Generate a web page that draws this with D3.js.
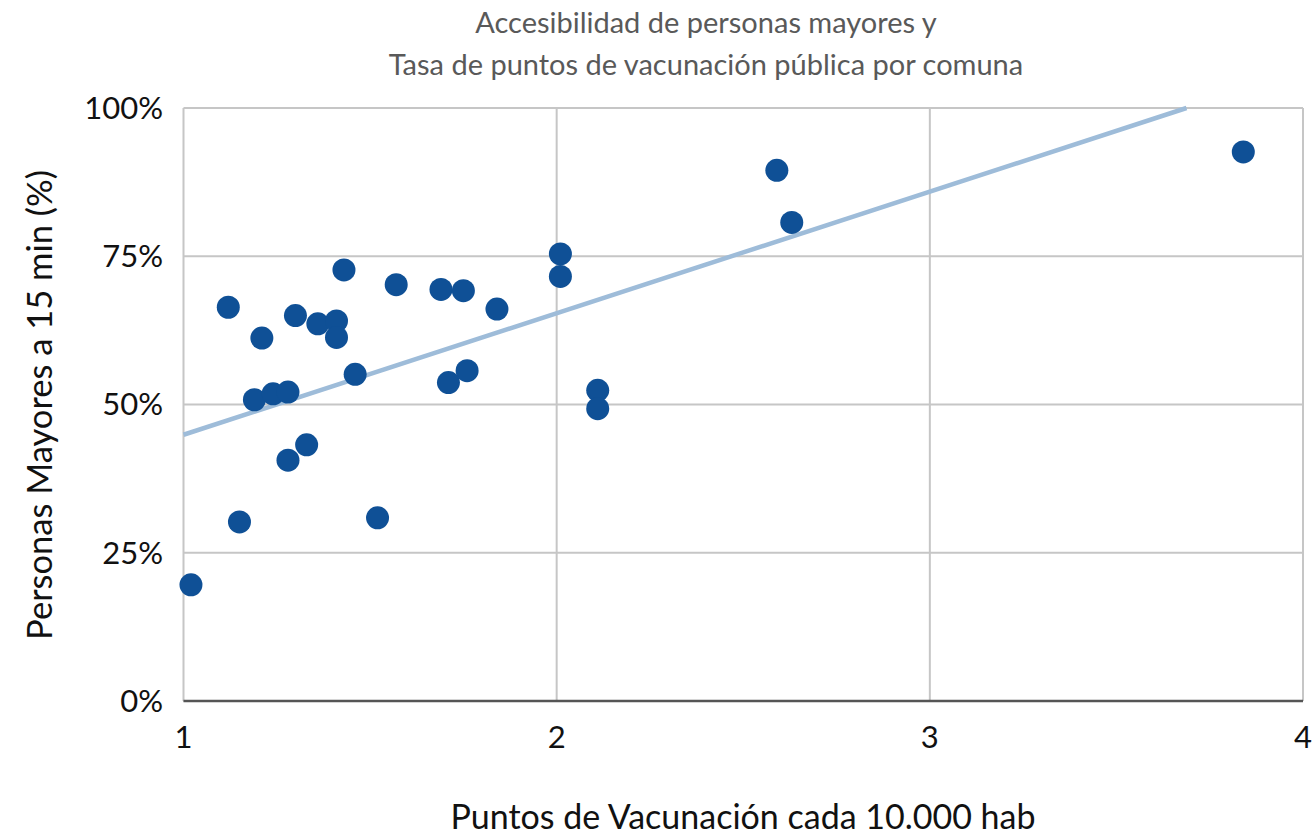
<!DOCTYPE html>
<html>
<head>
<meta charset="utf-8">
<script src="https://cdn.jsdelivr.net/npm/d3@7"></script>
<style>
  body { margin: 0; background: #fff; }
  text { font-family: Lato, "Noto Sans", sans-serif; }
</style>
</head>
<body>
<div id="chart"></div>
<script>
// puntos de vacunacion cada 10.000 hab
var puntos = [3.84, 2.59, 2.63, 2.01, 2.01, 2.11, 2.11, 1.43, 1.57, 1.69, 1.75, 1.84, 1.12, 1.30,
  1.36, 1.41, 1.41, 1.21, 1.46, 1.71, 1.76, 1.19, 1.24, 1.28, 1.28, 1.33, 1.15, 1.52, 1.02]
// personas mayores a 15 min
var mayores = [0.926, 0.895, 0.807, 0.754, 0.716, 0.524, 0.493, 0.727, 0.702, 0.694, 0.692, 0.661, 0.664, 0.650,
  0.636, 0.641, 0.613, 0.612, 0.551, 0.537, 0.557, 0.508, 0.518, 0.521, 0.406, 0.432, 0.302, 0.309, 0.196]
// linea de tendencia: y = a + b*x
var tendencia = {a: 0.244, b: 0.205}
var xTicks = [1, 2, 3, 4]
var yTicks = [0, 0.25, 0.5, 0.75, 1]
var titulo = ['Accesibilidad de personas mayores y', 'Tasa de puntos de vacunación pública por comuna']

var width = 1312, height = 836
var m = {left: 183.5, top: 108, right: 9, bottom: 135}

var svg = d3.select('#chart').append('svg')
  .attr('width', width)
  .attr('height', height)

var x = d3.scaleLinear().domain([1, 4]).range([m.left, width - m.right])
var y = d3.scaleLinear().domain([0, 1]).range([height - m.bottom, m.top])

// grid
svg.append('g').selectAll('line').data(xTicks).enter().append('line')
  .attr('x1', function(d) { return x(d) }).attr('x2', function(d) { return x(d) })
  .attr('y1', y(1)).attr('y2', y(0))
  .attr('stroke', '#c6c6c6').attr('stroke-width', 2)
svg.append('g').selectAll('line').data(yTicks).enter().append('line')
  .attr('x1', x(1)).attr('x2', x(4))
  .attr('y1', function(d) { return y(d) }).attr('y2', function(d) { return y(d) })
  .attr('stroke', '#c6c6c6').attr('stroke-width', 2)

// eje x
svg.append('line')
  .attr('x1', x(1)).attr('x2', x(4)).attr('y1', y(0)).attr('y2', y(0))
  .attr('stroke', '#555').attr('stroke-width', 2.5)

// tick labels
svg.append('g').selectAll('text').data(yTicks).enter().append('text')
  .attr('x', 163).attr('y', function(d) { return y(d) })
  .attr('dy', '0.35em')
  .attr('text-anchor', 'end')
  .attr('font-size', 31).attr('fill', '#111')
  .text(d3.format('.0%'))
svg.append('g').selectAll('text').data(xTicks).enter().append('text')
  .attr('x', function(d) { return x(d) }).attr('y', 748)
  .attr('text-anchor', 'middle')
  .attr('font-size', 31).attr('fill', '#111')
  .text(function(d) { return d })

// linea de tendencia
var a = tendencia.a, b = tendencia.b
var xEnd = Math.min(4, (1 - a) / b)
svg.append('line')
  .attr('x1', x(1)).attr('y1', y(a + b))
  .attr('x2', x(xEnd)).attr('y2', y(a + b * xEnd))
  .attr('stroke', '#9ebcd9').attr('stroke-width', 4.5)

// puntos
svg.append('g').selectAll('circle')
  .data(puntos)
  .enter()
  .append('circle')
    .attr('r', 11.5)
    .attr('cx', function(d) { return x(d) })
    .attr('cy', function(d, i) { return y(mayores[i]) })
    .attr('fill', '#0f5096')

// titulos
svg.append('g').selectAll('text').data(titulo).enter().append('text')
  .attr('x', 706).attr('y', function(d, i) { return 33 + i * 42 })
  .attr('text-anchor', 'middle')
  .attr('font-size', 29).attr('fill', '#595959')
  .text(function(d) { return d })

svg.append('text')
  .attr('x', 743).attr('y', 829)
  .attr('text-anchor', 'middle')
  .attr('font-size', 34).attr('fill', '#111')
  .text('Puntos de Vacunación cada 10.000 hab')

svg.append('text')
  .attr('transform', 'translate(52,405) rotate(-90)')
  .attr('text-anchor', 'middle')
  .attr('font-size', 34.5).attr('fill', '#111')
  .text('Personas Mayores a 15 min (%)')
</script>
</body>
</html>
